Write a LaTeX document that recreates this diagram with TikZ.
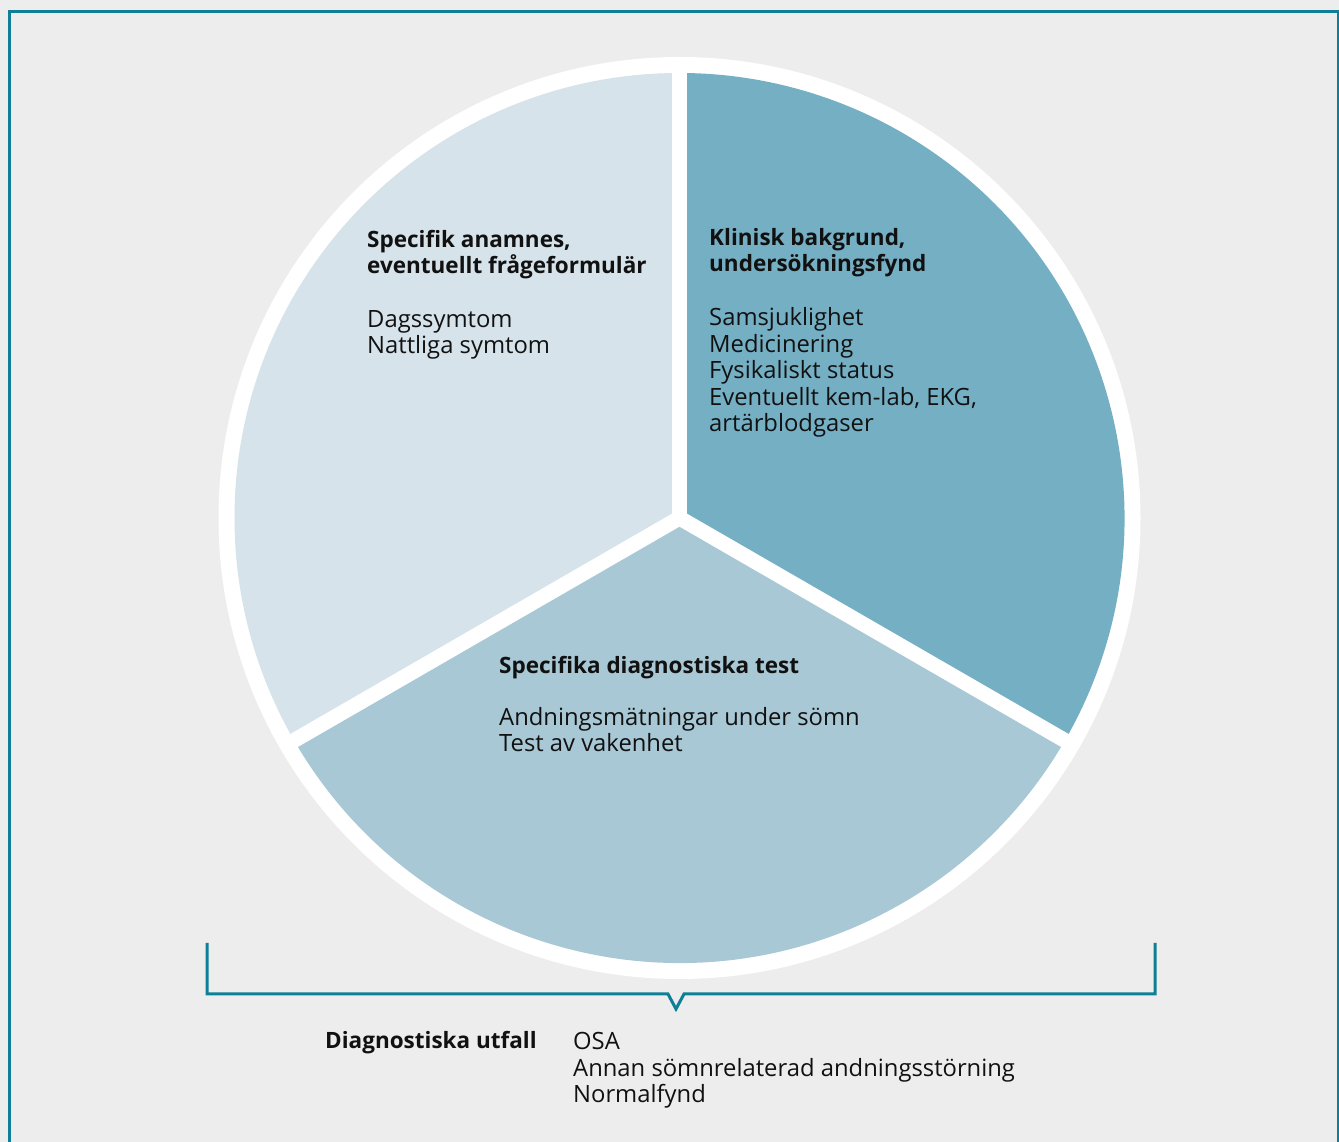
\documentclass[tikz,border=0pt]{standalone}
\usepackage{fontspec}
\setmainfont{Open Sans}
\usetikzlibrary{positioning}
\definecolor{bakgrund}{HTML}{ECEDEC}
\definecolor{ram}{HTML}{0E7F96}
\definecolor{ljus}{HTML}{D6E3EA}
\definecolor{mork}{HTML}{75AFC4}
\definecolor{mellan}{HTML}{A8C8D5}
\definecolor{svart}{HTML}{111111}
\newcommand{\rubrik}[1]{{\fontsize{22.5}{26.5}\selectfont\bfseries #1}}
\tikzstyle{every node}=[font=\fontsize{23.8}{26.6}\selectfont, text=svart, inner sep=0pt, align=left]
\tikzstyle{skiljelinje}=[white, line width=15pt, line cap=round]

\begin{document}
\begin{tikzpicture}[x=1pt, y=1pt]
    \fill[bakgrund] (0,0) rectangle (1339,1142);
    \useasboundingbox (0,0) rectangle (1339,1142);
    % ram runt hela figuren
    \draw[ram, line width=3pt] (9.5,-5) -- (9.5,1130.5) -- (1338.5,1130.5) -- (1338.5,-5);

    % cirkeln med tre sektorer
    \coordinate (mitt) at (679.5,624);
    \fill[white] (mitt) circle (461);
    \fill[ljus] (mitt) -- +(90:445) arc (90:210:445) -- cycle;
    \fill[mellan] (mitt) -- +(210:445) arc (210:330:445) -- cycle;
    \fill[mork] (mitt) -- +(-30:445) arc (-30:90:445) -- cycle;
    \foreach \v in {90,210,330}
        \draw[skiljelinje] (mitt) -- +(\v:450);

    % texterna (base = sista radens baslinje)
    \node[anchor=base west] (anamnes) at (367,788)
        {\rubrik{Specifik anamnes,}\\\rubrik{eventuellt frågeformulär}\\[27pt]Dagssymtom\\Nattliga symtom};
    \node[anchor=base west] (klinisk) at (709,710)
        {\rubrik{Klinisk bakgrund,}\\\rubrik{undersökningsfynd}\\[27pt]Samsjuklighet\\Medicinering\\Fysikaliskt status\\Eventuellt kem-lab, EKG,\\artärblodgaser};
    \node[anchor=base west] (test) at (499,390)
        {\rubrik{Specifika diagnostiska test}\\[25pt]Andningsmätningar under sömn\\Test av vakenhet};

    % klammer under cirkeln
    \coordinate (kv) at (207,199);
    \coordinate (hv) at (1155,199);
    \coordinate (spets) at (676,133);
    \draw[ram, line width=3pt, line join=miter] (kv) -- (207,148) -- (668,148) -- (spets)
        -- (684,148) -- (1155,148) -- (hv);

    \node[anchor=base west] (utfall) at (325,93) {\rubrik{Diagnostiska utfall}};
    \node[anchor=base west] (fynd) at (573,39) {OSA\\Annan sömnrelaterad andningsstörning\\Normalfynd};
\end{tikzpicture}
\end{document}
